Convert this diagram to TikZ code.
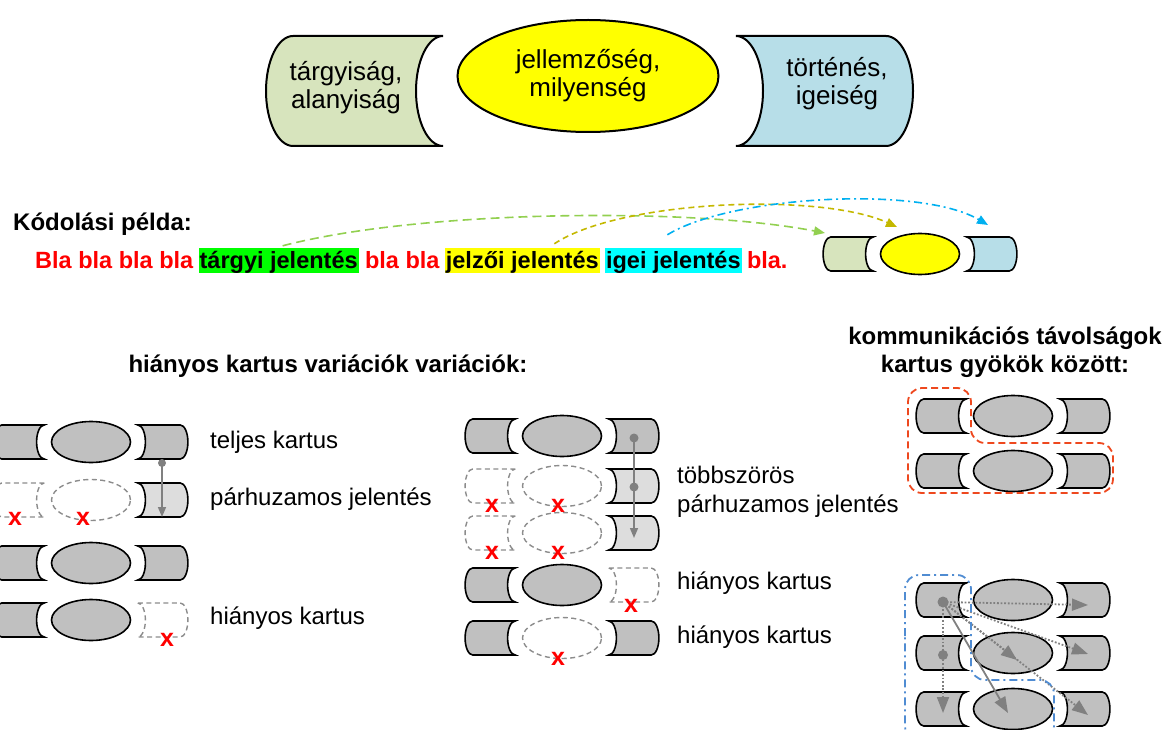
\documentclass[tikz,border=0pt]{standalone}
\usepackage{fontspec}
\setmainfont{Liberation Sans}
\usetikzlibrary{positioning, arrows.meta, calc, shapes.geometric}
\definecolor{cartgray}{RGB}{192,192,192}
\definecolor{cartlight}{RGB}{221,221,221}
\definecolor{missgray}{RGB}{140,140,140}
\definecolor{olivebg}{RGB}{215,228,189}
\definecolor{bluebg}{RGB}{183,222,232}
\definecolor{hlgreen}{RGB}{0,255,0}
\definecolor{hlyellow}{RGB}{255,255,0}
\definecolor{hlcyan}{RGB}{0,255,255}
\definecolor{arrgreen}{RGB}{146,208,80}
\definecolor{arryellow}{RGB}{196,184,0}
\definecolor{arrcyan}{RGB}{0,176,240}
\definecolor{ringred}{RGB}{238,72,30}
\definecolor{ringblue}{RGB}{80,140,210}

\newcommand{\kartus}[5]{%
  \coordinate (#1) at (#2);
  \coordinate (#1l) at ($(#1)+(-68,0)$);
  \coordinate (#1r) at ($(#1)+(68,0)$);
  \pic[#3] at (#1l) {lcart};
  \node[#4] (#1e) at (#1) {};
  \pic[#5] at (#1r) {rcart};}

\begin{document}
\begin{tikzpicture}[x=1pt, y=-1pt,
    lcart/.pic={\path[pic actions] (1.25,-1) -- (-1.25,-1)
      arc[start angle=270, end angle=90, x radius=.45, y radius=1] -- (1.25,1)
      arc[start angle=90, end angle=270, x radius=.45, y radius=1] -- cycle;},
    rcart/.pic={\path[pic actions] (-1.25,-1) -- (1.25,-1)
      arc[start angle=-90, end angle=90, x radius=.45, y radius=1] -- (-1.25,1)
      arc[start angle=90, end angle=-90, x radius=.45, y radius=1] -- cycle;},
    cart/.style={draw=black, line width=1.6pt, fill=cartgray, scale=17},
    cartpar/.style={cart, fill=cartlight},
    cartmiss/.style={draw=missgray, line width=1.4pt, dash pattern=on 5pt off 3.5pt, scale=17},
    bigcart/.style={draw=black, line width=2pt, xscale=60, yscale=55},
    oval/.style={ellipse, draw=black, line width=1.6pt, fill=cartgray,
      minimum width=79pt, minimum height=41pt, inner sep=0pt},
    ovalmiss/.style={oval, draw=missgray, fill=none, line width=1.4pt, dash pattern=on 5pt off 3.5pt},
    miss/.style={text=red, font=\bfseries\fontsize{25}{26}\selectfont, inner sep=0pt},
    lbl/.style={anchor=west, font=\fontsize{24}{29}\selectfont, align=left, inner sep=0pt},
    big/.style={font=\fontsize{26}{28}\selectfont, align=center, inner sep=0pt},
    head/.style={font=\bfseries\fontsize{24}{28}\selectfont, align=center, inner sep=0pt},
    wrd/.style={font=\bfseries\fontsize{23.5}{28}\selectfont, inner ysep=0pt, inner xsep=1pt,
      text height=20pt, text depth=5pt},
    dot/.style={circle, fill=gray, inner sep=0pt, minimum size=9pt},
    garrow/.style={draw=gray, line width=1.5pt, -{Triangle[length=10pt, width=8pt]}},
    farrow/.style={draw=gray, line width=1.8pt, dash pattern=on 1.8pt off 1.8pt,
      -{Triangle[length=16pt, width=12pt]}}]
  \useasboundingbox (0,0) rectangle (1172,730);

  \coordinate (tl) at (368,91);
  \coordinate (tr) at (811,91);
  \pic[bigcart, fill=olivebg] at (tl) {lcart};
  \pic[bigcart, fill=bluebg] at (tr) {rcart};
  \node[big] (tltext) at (346,88) {tárgyiság,\\alanyiság};
  \node[big, ellipse, draw=black, line width=2pt, fill=hlyellow,
    minimum width=261pt, minimum height=112pt] (tm) at (588,76) {jellemzőség,\\milyenség};
  \node[big] (trtext) at (837,84) {történés,\\igeiség};

  \node[head, anchor=west] (kod) at (13,224) {Kódolási példa:};
  \node[wrd, text=red, anchor=west] (bla1) at (34,260.5) {Bla bla bla bla};
  \node[wrd, fill=hlgreen, right=4pt of bla1] (tgy) {tárgyi jelentés};
  \node[wrd, text=red, right=5pt of tgy] (bla2) {bla bla};
  \node[wrd, fill=hlyellow, right=4pt of bla2] (jlz) {jelzői jelentés};
  \node[wrd, fill=hlcyan, right=5pt of jlz] (ige) {igei jelentés};
  \node[wrd, text=red, right=4pt of ige] (bla3) {bla.};

  \kartus{ex}{920,254}{cart, fill=olivebg}{oval, fill=hlyellow}{cart, fill=bluebg}
  \draw[arrgreen, line width=1.6pt, dash pattern=on 9pt off 5pt, -{Triangle[length=11pt, width=9pt]}]
    ($(tgy.north)+(4,-2)$) .. controls (420,210) and (690,207) .. ($(exl)+(-27,-21)$);
  \draw[arryellow, line width=1.6pt, dash pattern=on 6pt off 4pt, -{Triangle[length=11pt, width=9pt]}]
    ($(jlz.north)+(32,-4)$) .. controls (620,200) and (820,192) .. ($(exe)+(-23,-27)$);
  \draw[arrcyan, line width=1.6pt, dash pattern=on 8pt off 4pt on 2pt off 4pt, -{Triangle[length=11pt, width=9pt]}]
    ($(ige.north)+(-6,-13)$) .. controls (730,196) and (920,185) .. ($(exr)+(0,-29)$);

  \node[head] (hvar) at (328,366) {hiányos kartus variációk variációk:};
  \kartus{a1}{91,442}{cart}{oval}{cart}
  \kartus{a2}{91,500}{cartmiss}{ovalmiss}{cartpar}
  \kartus{a3}{91,563}{cart}{oval}{cart}
  \kartus{a4}{91,620}{cart}{oval}{cartmiss}
  \node[miss] (x1) at ($(a2l)+(-8,19)$) {x};
  \node[miss] (x2) at ($(a2)+(-8,19)$) {x};
  \node[miss] (x3) at ($(a4r)+(8,20)$) {x};
  \node[dot, minimum size=8pt] (a1dot) at ($(a1r)+(3,21)$) {};
  \draw[garrow] (a1dot.center) -- ($(a2r)+(3,17)$);
  \node[lbl] (t1) at ($(a1r)+(51,0)$) {teljes kartus};
  \node[lbl] (t2) at ($(a2r)+(51,-1)$) {párhuzamos jelentés};
  \node[lbl] (t4) at ($(a4r)+(51,-2)$) {hiányos kartus};

  \kartus{b1}{562,436}{cart}{oval}{cart}
  \kartus{b2}{562,486}{cartmiss}{ovalmiss}{cartpar}
  \kartus{b3}{562,533}{cartmiss}{ovalmiss}{cartpar}
  \kartus{b4}{562,585}{cart}{oval}{cartmiss}
  \kartus{b5}{562,638}{cart}{ovalmiss}{cart}
  \node[miss] (x4) at ($(b2l)+(-2,20)$) {x};
  \node[miss] (x5) at ($(b2)+(-4,20)$) {x};
  \node[miss] (x6) at ($(b3l)+(-2,20)$) {x};
  \node[miss] (x7) at ($(b3)+(-4,20)$) {x};
  \node[miss] (x8) at ($(b4r)+(1,21)$) {x};
  \node[miss] (x9) at ($(b5)+(-4,21)$) {x};
  \draw[garrow] ($(b1r)+(4,2)$) -- ($(b3r)+(4,5)$);
  \node[dot] (b1dot) at ($(b1r)+(4,2)$) {};
  \node[dot] (b2dot) at ($(b2r)+(4,1)$) {};
  \node[lbl] (t5) at ($(b2r)!.5!(b3r)+(47,-18)$) {többszörös\\párhuzamos jelentés};
  \node[lbl] (t6) at ($(b4r)+(47,-2)$) {hiányos kartus};
  \node[lbl] (t7) at ($(b5r)+(47,-1)$) {hiányos kartus};

  \node[head] (htav) at (1005,352) {kommunikációs távolságok\\kartus gyökök között:};
  \kartus{c1}{1013,416}{cart}{oval}{cart}
  \kartus{c2}{1013,471}{cart}{oval}{cart}
  \draw[ringred, line width=1.8pt, dash pattern=on 7pt off 4pt, rounded corners=14pt]
    (908,440) -- (908,388) -- (971,388) -- (971,443) -- (1113,443) -- (1113,493) -- (908,493) -- cycle;

  \kartus{d1}{1013,600}{cart}{oval}{cart}
  \kartus{d2}{1013,653}{cart}{oval}{cart}
  \kartus{d3}{1013,709}{cart}{oval}{cart}
  \node[dot, minimum size=11pt] (d1dot) at ($(d1l)+(-2,2)$) {};
  \node[dot, minimum size=10pt] (d2dot) at ($(d2l)+(-2,2)$) {};
  \draw[farrow] (d1dot.center) -- ($(d1r)+(7,5)$);
  \draw[farrow] (d1dot.center) -- ($(d2r)+(7,1)$);
  \draw[farrow] (d1dot.center) -- ($(d3r)+(7,6)$);
  \draw[farrow] (d1dot.center) -- ($(d2e)+(4,7)$);
  \draw[farrow, solid] (d1dot.center) -- ($(d3e)+(-5,4)$);
  \draw[farrow] (d1dot.center) -- ($(d3l)+(-2,4)$);
  \draw[ringblue, line width=1.8pt, dash pattern=on 8pt off 4pt on 2pt off 4pt, rounded corners=14pt]
    (905,650) -- (905,575) -- (971,575) -- (971,680) -- (1054,680) -- (1054,740) -- (905,740) -- cycle;
\end{tikzpicture}
\end{document}
